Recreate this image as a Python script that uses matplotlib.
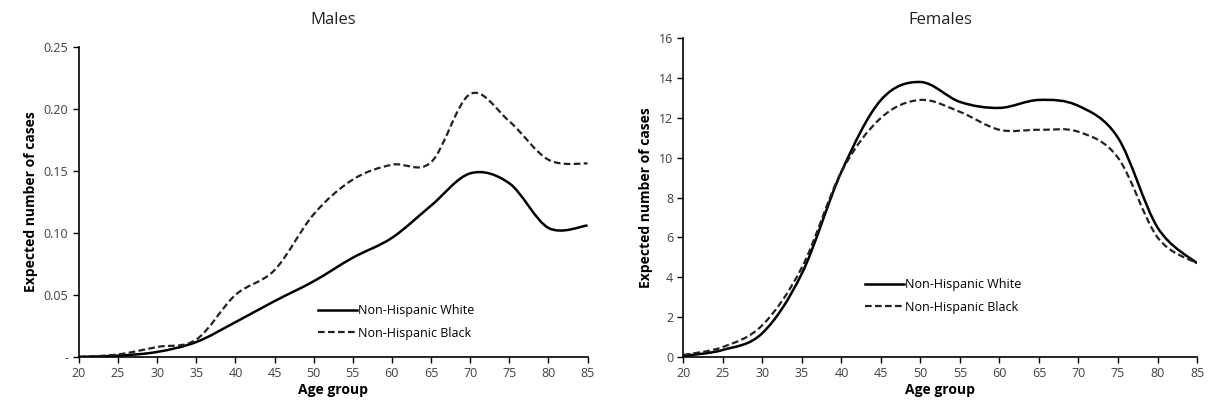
import matplotlib
matplotlib.use("Agg")
import matplotlib.pyplot as plt
import numpy as np
from matplotlib.path import Path
from matplotlib.patches import PathPatch

plt.rcParams["font.family"] = ["Open Sans", "DejaVu Sans"]

ages = [20, 25, 30, 35, 40, 45, 50, 55, 60, 65, 70, 75, 80, 85]

male_white = [0.0, 0.001, 0.004, 0.012, 0.028, 0.045, 0.061, 0.080, 0.096, 0.122, 0.148, 0.140, 0.104, 0.106]
male_black = [0.0, 0.002, 0.008, 0.014, 0.050, 0.070, 0.115, 0.143, 0.155, 0.157, 0.212, 0.190, 0.159, 0.156]

female_white = [0.05, 0.35, 1.2, 4.2, 9.3, 12.9, 13.8, 12.8, 12.5, 12.9, 12.6, 11.0, 6.5, 4.7]
female_black = [0.1, 0.5, 1.6, 4.5, 9.3, 12.0, 12.9, 12.3, 11.4, 11.4, 11.3, 10.0, 6.0, 4.7]

male_yticks = [0, 0.05, 0.10, 0.15, 0.20, 0.25]
male_yticklabels = ["-", "0.05", "0.10", "0.15", "0.20", "0.25"]
female_yticks = [0, 2, 4, 6, 8, 10, 12, 14, 16]


def smooth_path(x, y):
    # Excel-style smoothed line: cubic Bezier segments through the data points
    p = np.column_stack([x, y]).astype(float)
    n = len(p)
    verts = [p[0]]
    codes = [Path.MOVETO]
    for i in range(n - 1):
        p0 = p[i - 1] if i > 0 else p[i]
        p1 = p[i]
        p2 = p[i + 1]
        p3 = p[i + 2] if i + 2 < n else p[i + 1]
        c1 = p1 + (p2 - p0) / 6.0
        c2 = p2 - (p3 - p1) / 6.0
        verts += [c1, c2, p2]
        codes += [Path.CURVE4] * 3
    return Path(verts, codes)


def draw_panel(ax, white, black, yticks, ylabels, ymax, title, legend_xy):
    dash = (0, (3, 1.5))
    ax.add_patch(PathPatch(smooth_path(ages, white), fill=False, lw=1.8,
                           edgecolor="black", linestyle="-"))
    ax.add_patch(PathPatch(smooth_path(ages, black), fill=False, lw=1.6,
                           edgecolor="#222222", linestyle=dash))
    h1, = ax.plot([], [], color="black", lw=1.8, label="Non-Hispanic White")
    h2, = ax.plot([], [], color="#222222", lw=1.6, linestyle=dash,
                  label="Non-Hispanic Black")
    ax.set_xlim(20, 85)
    ax.set_ylim(0, ymax)
    ax.set_xticks(ages)
    ax.set_yticks(yticks)
    if ylabels is not None:
        ax.set_yticklabels(ylabels)
    ax.spines["top"].set_visible(False)
    ax.spines["right"].set_visible(False)
    ax.spines["left"].set_linewidth(1.2)
    ax.spines["bottom"].set_linewidth(1.2)
    ax.tick_params(axis="both", direction="out", length=4, width=1.0,
                   labelsize=9, labelcolor="#404040")
    ax.set_xlabel("Age group", fontsize=10, fontweight="bold", labelpad=2)
    ax.set_ylabel("Expected number of cases", fontsize=10, fontweight="bold")
    pos = ax.get_position()
    fig.text((pos.x0 + pos.x1) / 2, 0.952, title, ha="center", va="center",
             fontsize=12, color="#222222")
    ax.legend(handles=[h1, h2], loc="center left", bbox_to_anchor=legend_xy,
              frameon=False, fontsize=9, handlelength=3.1, handletextpad=0.1,
              labelspacing=0.75, borderaxespad=0, borderpad=0)


fig = plt.figure(figsize=(12.14, 4.15), dpi=100)
ax1 = fig.add_axes([0.065, 0.140, 0.419, 0.747])
ax2 = fig.add_axes([0.563, 0.140, 0.423, 0.768])

draw_panel(ax1, male_white, male_black, male_yticks, male_yticklabels, 0.25,
           "Males", (0.47, 0.113))
draw_panel(ax2, female_white, female_black, female_yticks, None, 16,
           "Females", (0.354, 0.191))

fig.savefig("out.png", dpi=100)
